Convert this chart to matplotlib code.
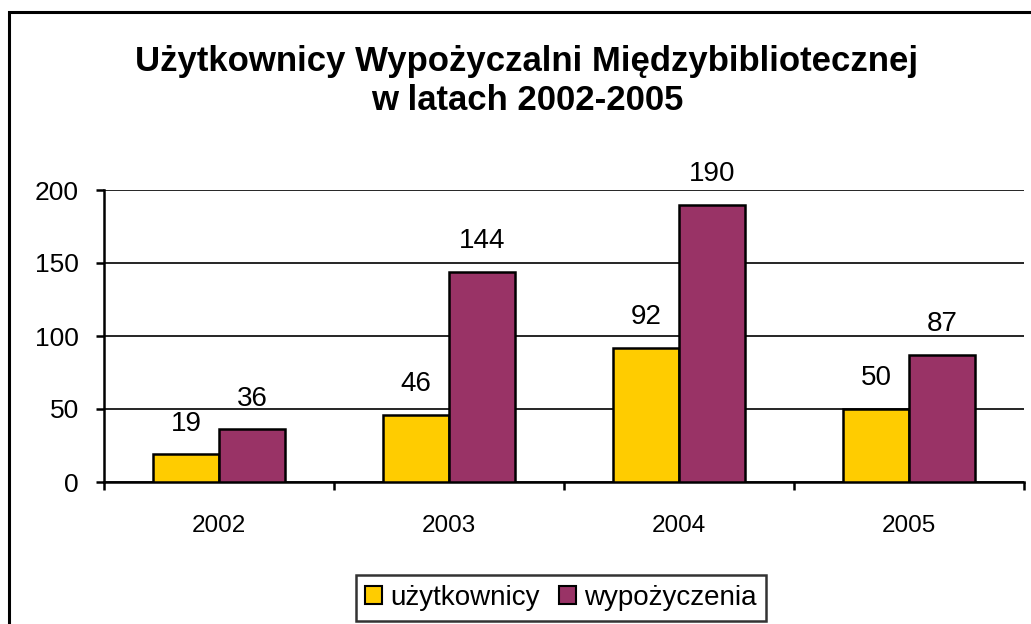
import numpy as np
import matplotlib.pyplot as plt
from matplotlib.patches import Rectangle, Patch

# dane z wykresu
lata = ['2002', '2003', '2004', '2005']
uzytkownicy = [19, 46, 92, 50]
wypozyczenia = [36, 144, 190, 87]

kolor_u = '#FFCC00'
kolor_w = '#993366'

plt.rcParams['font.family'] = ['Liberation Sans', 'DejaVu Sans']

fig = plt.figure(figsize=(10.31, 6.24), dpi=100)
W, H = 1031, 624
ax = fig.add_axes([104 / W, 142 / H, 920 / W, 292 / H])

x = np.arange(len(lata))
szer = 0.288
b1 = ax.bar(x - szer / 2, uzytkownicy, szer, color=kolor_u, edgecolor='black', linewidth=1.8, zorder=3)
b2 = ax.bar(x + szer / 2, wypozyczenia, szer, color=kolor_w, edgecolor='black', linewidth=1.8, zorder=3)

# etykiety wartości nad słupkami
for bars, vals in ((b1, uzytkownicy), (b2, wypozyczenia)):
    for r, v in zip(bars, vals):
        ax.annotate(str(v), (r.get_x() + r.get_width() / 2, r.get_height()),
                    xytext=(0, 22), textcoords='offset points',
                    ha='center', va='center', fontsize=20)

ax.set_xlim(-0.5, 3.5)
ax.set_ylim(0, 200)
ax.set_yticks([0, 50, 100, 150, 200])
ax.yaxis.grid(True, color='black', linewidth=1.2, zorder=0)
ax.set_axisbelow(True)

ax.set_xticks(x)
ax.set_xticklabels(lata)
ax.set_xticks(np.arange(-0.5, 4.0, 1.0), minor=True)
ax.tick_params(axis='x', which='major', length=0, pad=24, labelsize=17.5)
ax.tick_params(axis='x', which='minor', length=6, width=1.8, direction='out')
ax.tick_params(axis='y', length=6, width=1.8, pad=12, labelsize=19)

for s in ('top', 'right'):
    ax.spines[s].set_visible(False)
ax.spines['left'].set_linewidth(1.8)
ax.spines['bottom'].set_linewidth(1.8)

fig.text(527 / W, 1 - 62 / H, 'Użytkownicy Wypożyczalni Międzybibliotecznej',
         ha='center', va='center', fontsize=25, fontweight='bold')
fig.text(527 / W, 1 - 101 / H, 'w latach 2002-2005',
         ha='center', va='center', fontsize=25, fontweight='bold')

# ramka wykresu
fig.patches.append(Rectangle((9 / W, -0.1), 1.2, 1 - 12 / H + 0.1, transform=fig.transFigure,
                             fill=False, edgecolor='black', linewidth=2.2))

uchwyty = [Patch(facecolor=kolor_u, edgecolor='black', linewidth=1.5, label='użytkownicy'),
           Patch(facecolor=kolor_w, edgecolor='black', linewidth=1.5, label='wypożyczenia')]
leg = fig.legend(handles=uchwyty, loc='center', bbox_to_anchor=(561 / W, 1 - 598 / H),
                 ncol=2, fontsize=20, frameon=True, fancybox=False, edgecolor='black',
                 handlelength=0.6, handleheight=0.6, handletextpad=0.3, columnspacing=0.7,
                 borderpad=0.35)
leg.get_frame().set_linewidth(1.8)

fig.savefig('out.png', dpi=100)
